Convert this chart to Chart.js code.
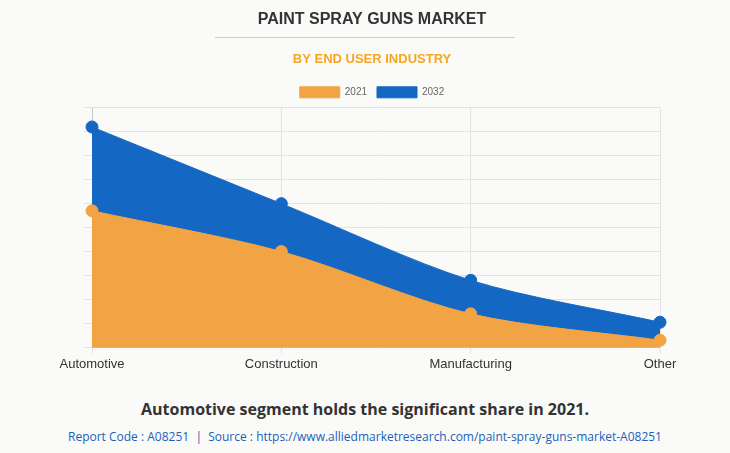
<!DOCTYPE html>
<html>
<head>
<meta charset="utf-8">
<script src="https://cdn.jsdelivr.net/npm/chart.js@4"></script>
<style>
  body { margin: 0; background: #fafaf8; font-family: "Open Sans", Arial, sans-serif; }
  #wrap { position: relative; width: 730px; height: 453px; }
  #chartBox { position: absolute; left: 0; top: 0; width: 730px; height: 375px; }
  #hr { position: absolute; left: 215px; top: 37px; width: 300px; border-top: 1px solid #ccc; }
  #note { position: absolute; top: 398px; width: 730px; text-align: center; font-weight: bold; font-size: 16px; color: #333; }
  #src { position: absolute; top: 428px; width: 730px; text-align: center; font-size: 12px; color: #1a62b8; }
</style>
</head>
<body>
<div id="wrap">
  <div id="chartBox"><canvas id="marketChart"></canvas></div>
  <div id="hr"></div>
  <div id="note">Automotive segment holds the significant share in 2021.</div>
  <div id="src">Report Code : A08251 &nbsp;|&nbsp; Source : https://www.alliedmarketresearch.com/paint-spray-guns-market-A08251</div>
</div>
<script>
const categories = ['Automotive', 'Construction', 'Manufacturing', 'Other'];
const values2021 = [5.7, 4.0, 1.4, 0.3];
const values2032 = [9.2, 6.0, 2.8, 1.05];

const ctx = document.getElementById('marketChart').getContext('2d');
new Chart(ctx, {
    type: 'line',
    data: {
        labels: categories,
        datasets: [{
            label: '2021',
            data: values2021,
            backgroundColor: '#f2a444',
            borderColor: '#f2a444',
            fill: 'origin',
            tension: 0.3,
            pointRadius: 6,
            borderWidth: 1,
            order: 0
        }, {
            label: '2032',
            data: values2032,
            backgroundColor: '#1467c2',
            borderColor: '#1467c2',
            fill: 'origin',
            tension: 0.3,
            pointRadius: 6,
            borderWidth: 1,
            order: 1
        }]
    },
    options: {
        responsive: true,
        maintainAspectRatio: false,
        animation: false,
        layout: { padding: { left: 84, right: 70, top: 4 } },
        plugins: {
            title: { display: true, text: 'PAINT SPRAY GUNS MARKET', color: '#333', font: { size: 16, weight: 'bold' }, padding: { top: 6, bottom: 22 } },
            subtitle: { display: true, text: 'BY END USER INDUSTRY', color: '#f5a623', font: { size: 13, weight: 'bold' }, padding: { bottom: 10 } },
            legend: {
                display: true,
                labels: { boxWidth: 40, boxHeight: 11, font: { size: 10 }, color: '#666' }
            },
            tooltip: { enabled: false }
        },
        scales: {
            x: {
                grid: { color: '#e3e3e3', tickLength: 6 },
                ticks: { color: '#333', font: { size: 13 } }
            },
            y: {
                min: 0, max: 10,
                ticks: { stepSize: 1, display: false },
                grid: { color: '#e3e3e3', tickLength: 8 },
                border: { display: true }
            }
        }
    }
});
</script>
</body>
</html>
